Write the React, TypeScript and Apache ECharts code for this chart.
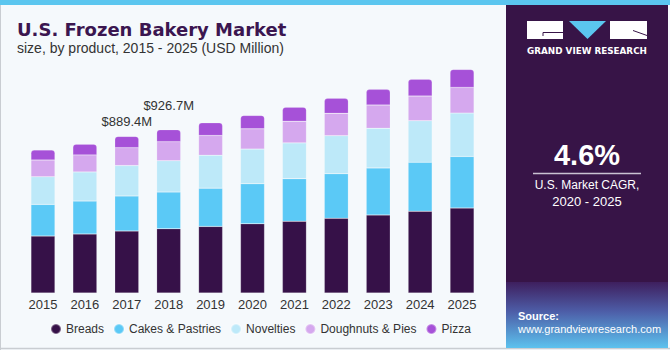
import React, { useEffect, useRef } from "react";
import * as echarts from "echarts";

const years = ["2015", "2016", "2017", "2018", "2019", "2020", "2021", "2022", "2023", "2024", "2025"];
const breads = [323, 335, 352, 365, 378, 393, 407, 424, 443, 464, 482];
const cakes = [180, 187, 199, 208, 217, 227, 242, 253, 267, 278, 293];
const novelties = [157, 165, 172, 178, 187, 197, 203, 216, 225, 236, 246];
const doughnuts = [95, 97, 102, 108, 112, 115, 123, 127, 132, 140, 146];
const pizza = [57, 61, 64, 68, 72, 76, 80, 85, 89, 95, 102];
const totalLabels = ["", "", "$889.4M", "$926.7M", "", "", "", "", "", "", ""];

const seriesNames = ["Breads", "Cakes & Pastries", "Novelties", "Doughnuts & Pies", "Pizza"];
const seriesColors = ["#361148", "#5bc9f6", "#bde9f9", "#d5a8ee", "#a651d8"];

export default function App() {
  const ref = useRef<HTMLDivElement>(null);
  useEffect(() => {
    if (!ref.current) return;
    const chart = echarts.init(ref.current, undefined, { renderer: "svg" });
    const seriesData = [breads, cakes, novelties, doughnuts, pizza];
    const labelDist = [0, 0, 8, 18, 0, 0, 0, 0, 0, 0, 0];
    const series = seriesData.map((d, i) => ({
      name: seriesNames[i],
      type: "bar",
      stack: "total",
      barWidth: 24,
      itemStyle: {
        color: seriesColors[i],
        borderColor: "rgba(255,255,255,0.35)",
        borderWidth: 0.5,
        borderRadius: i === 4 ? [3, 3, 0, 0] : 0,
      },
      data: d.map((v, j) =>
        i === 4 && totalLabels[j]
          ? {
              value: v,
              label: {
                show: true,
                position: "top",
                distance: labelDist[j],
                formatter: totalLabels[j],
                color: "#333",
                fontSize: 13,
                fontFamily: "Liberation Sans, Arial, sans-serif",
              },
            }
          : v
      ),
    }));
    const font = "Liberation Sans, Arial, sans-serif";
    chart.setOption({
      animation: false,
      backgroundColor: "#f5f9fc",
      grid: { left: 22, right: 187, top: 46.35, bottom: 57 },
      xAxis: {
        type: "category",
        data: years,
        axisLine: { show: false },
        axisTick: { show: false },
        axisLabel: { color: "#333", fontSize: 13, margin: 5, fontFamily: font },
      },
      yAxis: { type: "value", show: false, min: 0, max: 1400, splitLine: { show: false } },
      legend: {
        data: seriesNames,
        left: 45,
        top: 318,
        icon: "circle",
        itemWidth: 10,
        itemHeight: 10,
        itemGap: 9,
        textStyle: { color: "#333", fontSize: 12, fontFamily: font },
      },
      series,
      graphic: [
        { type: "rect", shape: { x: 0, y: 0, width: 670, height: 5 }, style: { fill: "#5bc6ef" }, z: 10 },
        { type: "line", shape: { x1: 0.5, y1: 0, x2: 0.5, y2: 350 }, style: { stroke: "#c9cdd2", lineWidth: 1 } },
        { type: "line", shape: { x1: 0, y1: 348.5, x2: 670, y2: 348.5 }, style: { stroke: "#c9cdd2", lineWidth: 1.5 } },
        {
          type: "text",
          x: 17,
          y: 29,
          style: {
            text: "U.S. Frozen Bakery Market",
            fill: "#3b1650",
            font: "bold 18px 'DejaVu Sans', sans-serif",
            verticalAlign: "middle",
          },
        },
        {
          type: "text",
          x: 17,
          y: 48,
          style: {
            text: "size, by product, 2015 - 2025 (USD Million)",
            fill: "#333",
            font: "14px 'Liberation Sans', Arial, sans-serif",
            verticalAlign: "middle",
          },
        },
        { type: "rect", shape: { x: 506, y: 0, width: 162, height: 348 }, style: { fill: "#371447" }, z: 5 },
        {
          type: "rect",
          shape: { x: 506, y: 282, width: 162, height: 66 },
          style: {
            fill: new echarts.graphic.LinearGradient(0, 0, 0, 1, [
              { offset: 0, color: "#3e1f5e" },
              { offset: 0.45, color: "#4d5ea8" },
              { offset: 1, color: "#5cc2ee" },
            ]),
          },
          z: 6,
        },
        { type: "rect", shape: { x: 527, y: 21, width: 36, height: 18 }, style: { fill: "#ffffff" }, z: 7 },
        { type: "polyline", shape: { points: [[543, 36], [543, 32.5], [563, 32.5]] }, style: { stroke: "#371447", lineWidth: 1, fill: null }, z: 8 },
        { type: "polygon", shape: { points: [[569, 21], [606, 21], [587.5, 39]] }, style: { fill: "#5bc6ef" }, z: 7 },
        { type: "rect", shape: { x: 610, y: 21, width: 37, height: 18 }, style: { fill: "#ffffff" }, z: 7 },
        { type: "line", shape: { x1: 633, y1: 30.5, x2: 647, y2: 35.5 }, style: { stroke: "#371447", lineWidth: 1 }, z: 8 },
        {
          type: "text",
          x: 587,
          y: 51,
          z: 8,
          style: {
            text: "GRAND VIEW RESEARCH",
            fill: "#ffffff",
            font: "bold 8.8px 'DejaVu Sans', sans-serif",
            align: "center",
            verticalAlign: "middle",
          },
        },
        {
          type: "text",
          x: 587,
          y: 155,
          z: 8,
          style: {
            text: "4.6%",
            fill: "#ffffff",
            font: "bold 29px 'Liberation Sans', Arial, sans-serif",
            align: "center",
            verticalAlign: "middle",
          },
        },
        { type: "line", shape: { x1: 533, y1: 173.5, x2: 641, y2: 173.5 }, style: { stroke: "#c9c1d2", lineWidth: 1.5 }, z: 8 },
        {
          type: "text",
          x: 587,
          y: 185,
          z: 8,
          style: {
            text: "U.S. Market CAGR,",
            fill: "#ffffff",
            font: "12px 'Liberation Sans', Arial, sans-serif",
            align: "center",
            verticalAlign: "middle",
          },
        },
        {
          type: "text",
          x: 587,
          y: 201,
          z: 8,
          style: {
            text: "2020 - 2025",
            fill: "#ffffff",
            font: "13px 'Liberation Sans', Arial, sans-serif",
            align: "center",
            verticalAlign: "middle",
          },
        },
        {
          type: "text",
          x: 518,
          y: 316,
          z: 8,
          style: {
            text: "Source:",
            fill: "#ffffff",
            font: "bold 11px 'Liberation Sans', Arial, sans-serif",
            verticalAlign: "middle",
          },
        },
        {
          type: "text",
          x: 518,
          y: 329,
          z: 8,
          style: {
            text: "www.grandviewresearch.com",
            fill: "#ffffff",
            font: "11px 'Liberation Sans', Arial, sans-serif",
            verticalAlign: "middle",
          },
        },
      ],
    });
    return () => chart.dispose();
  }, []);
  return (
    <div
      ref={ref}
      style={{ position: "fixed", left: 0, top: 0, width: 670, height: 350 }}
    />
  );
}
